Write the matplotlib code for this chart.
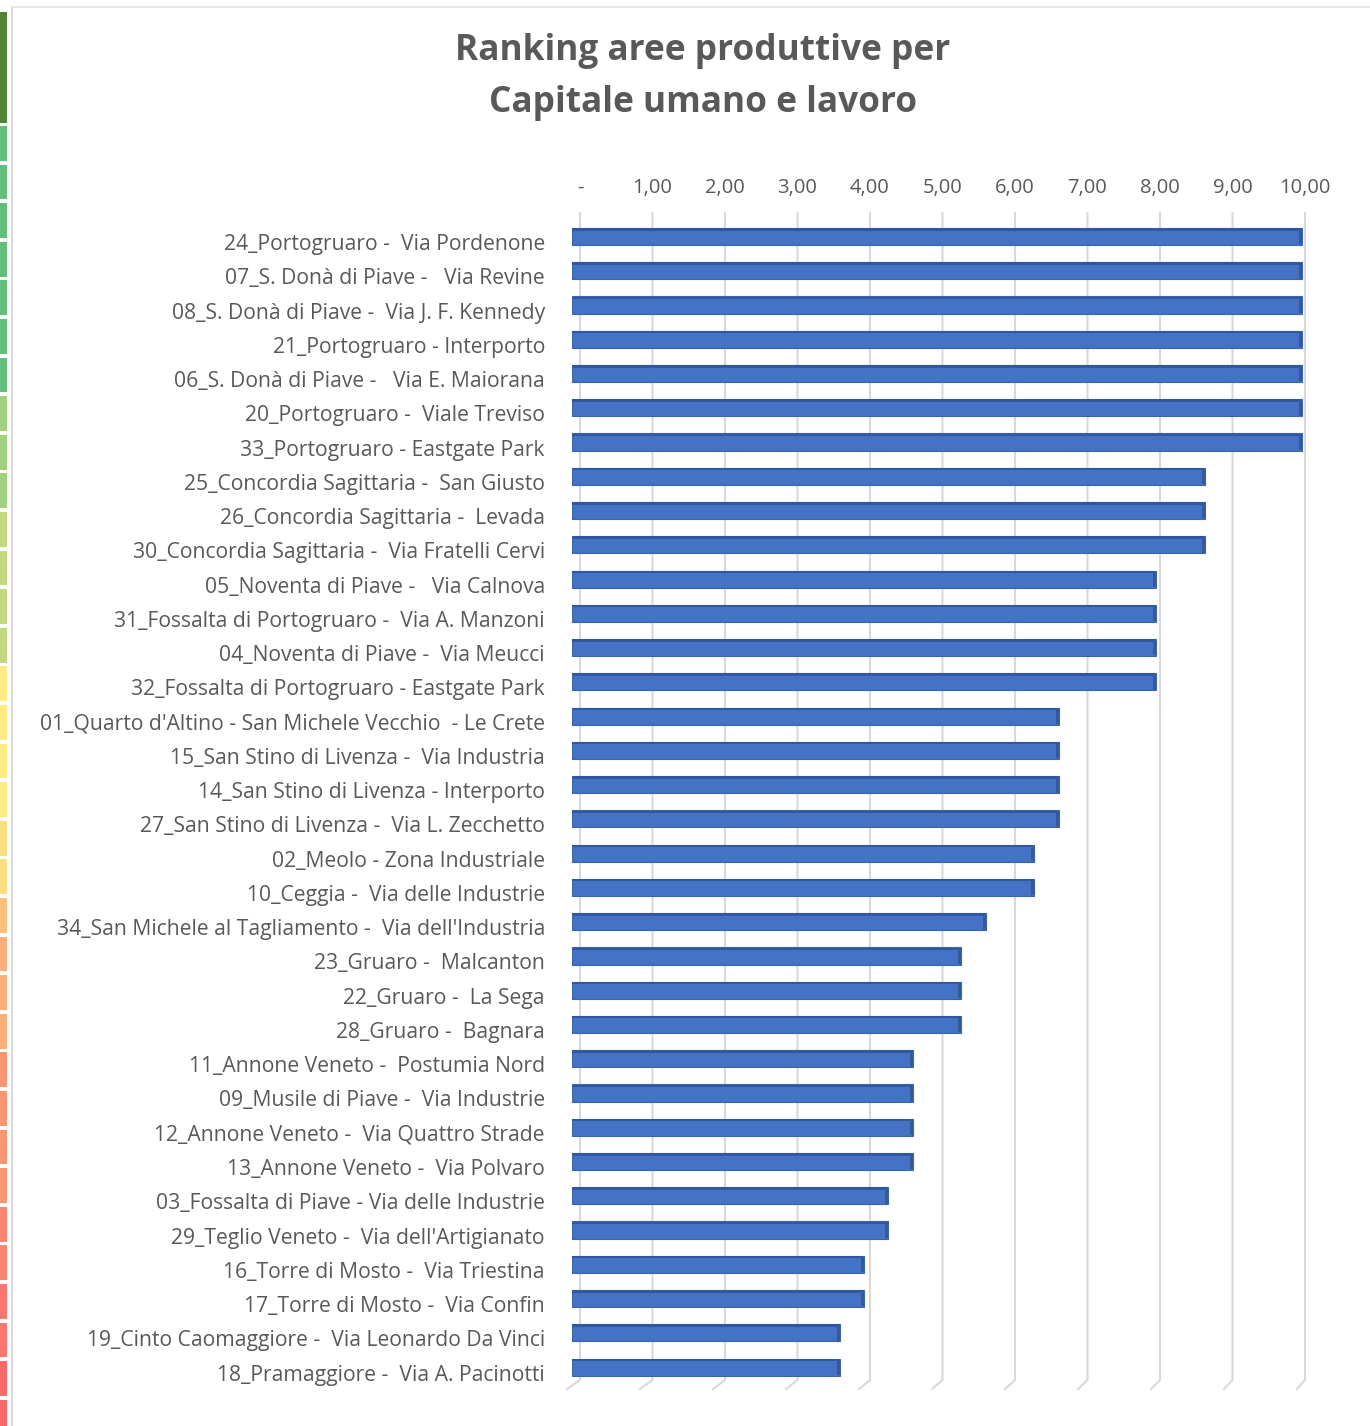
import numpy as np
from matplotlib import pyplot as plt
from matplotlib.colors import LinearSegmentedColormap, TwoSlopeNorm
from matplotlib.transforms import ScaledTranslation
from matplotlib.lines import Line2D
from matplotlib.patches import Rectangle

# dati
aree = [
    "24_Portogruaro -  Via Pordenone",
    "07_S. Donà di Piave -   Via Revine",
    "08_S. Donà di Piave -  Via J. F. Kennedy",
    "21_Portogruaro - Interporto",
    "06_S. Donà di Piave -   Via E. Maiorana",
    "20_Portogruaro -  Viale Treviso",
    "33_Portogruaro - Eastgate Park",
    "25_Concordia Sagittaria -  San Giusto",
    "26_Concordia Sagittaria -  Levada",
    "30_Concordia Sagittaria -  Via Fratelli Cervi",
    "05_Noventa di Piave -   Via Calnova",
    "31_Fossalta di Portogruaro -  Via A. Manzoni",
    "04_Noventa di Piave -  Via Meucci",
    "32_Fossalta di Portogruaro - Eastgate Park",
    "01_Quarto d'Altino - San Michele Vecchio  - Le Crete",
    "15_San Stino di Livenza -  Via Industria",
    "14_San Stino di Livenza - Interporto",
    "27_San Stino di Livenza -  Via L. Zecchetto",
    "02_Meolo - Zona Industriale",
    "10_Ceggia -  Via delle Industrie",
    "34_San Michele al Tagliamento -  Via dell'Industria",
    "23_Gruaro -  Malcanton",
    "22_Gruaro -  La Sega",
    "28_Gruaro -  Bagnara",
    "11_Annone Veneto -  Postumia Nord",
    "09_Musile di Piave -  Via Industrie",
    "12_Annone Veneto -  Via Quattro Strade",
    "13_Annone Veneto -  Via Polvaro",
    "03_Fossalta di Piave - Via delle Industrie",
    "29_Teglio Veneto -  Via dell'Artigianato",
    "16_Torre di Mosto -  Via Triestina",
    "17_Torre di Mosto -  Via Confin",
    "19_Cinto Caomaggiore -  Via Leonardo Da Vinci",
    "18_Pramaggiore -  Via A. Pacinotti",
]
punteggi = [10.0, 10.0, 10.0, 10.0, 10.0, 10.0, 10.0,
            8.67, 8.67, 8.67,
            8.0, 8.0, 8.0, 8.0,
            6.67, 6.67, 6.67, 6.67,
            6.33, 6.33,
            5.67,
            5.33, 5.33, 5.33,
            4.67, 4.67, 4.67, 4.67,
            4.33, 4.33,
            4.0, 4.0,
            3.67, 3.67]
tick_vals = [0, 1, 2, 3, 4, 5, 6, 7, 8, 9, 10]
tick_labels = ["-", "1,00", "2,00", "3,00", "4,00", "5,00", "6,00", "7,00", "8,00", "9,00", "10,00"]
titolo = "Ranking aree produttive per\nCapitale umano e lavoro"

W, H = 1370, 1426
GRIGIO = '#595959'
plt.rcParams['font.family'] = ['Open Sans', 'DejaVu Sans']

fig = plt.figure(figsize=(W / 100, H / 100), dpi=100)
fig.patch.set_facecolor('white')

def px(x0, y0, x1, y1):
    # rettangolo in pixel (origine in alto a sinistra) -> coordinate figura
    return [x0 / W, 1 - y1 / H, (x1 - x0) / W, (y1 - y0) / H]

# bordo del grafico (screenshot excel)
fig.add_artist(Line2D([12 / W, 12 / W], [0, 1 - 7 / H], color='#d9d9d9', lw=1.5))
fig.add_artist(Line2D([12 / W, 1], [1 - 7 / H, 1 - 7 / H], color='#e3e3e3', lw=1.2))

# colonna con scala colori a sinistra
fig.add_artist(Rectangle((0, 1 - 123 / H), 7 / W, 111 / H, transform=fig.transFigure,
                         color='#548235', lw=0))
ax_s = fig.add_axes(px(0, 126, 7, 126 + 38.6 * len(punteggi)))
cmap = LinearSegmentedColormap.from_list('rg', ['#F8696B', '#FFEB84', '#63BE7B'])
norm = TwoSlopeNorm(vmin=min(punteggi), vcenter=float(np.median(punteggi)), vmax=max(punteggi))
ax_s.barh(np.arange(len(punteggi)) + 0.45, 1, height=0.9, color=cmap(norm(punteggi)))
ax_s.set_xlim(0, 1)
ax_s.set_ylim(len(punteggi), 0)
ax_s.axis('off')

# grafico principale
ax = fig.add_axes(px(572, 213, 1305, 1389))
n = len(aree)
y = np.arange(n)
ppu = 733 / 10  # pixel per unita (piano frontale)
k_back = 72.8 / ppu  # piano di fondo leggermente piu' stretto (prospettiva)
dx_back = 8 / ppu
dx_front = -5 / ppu
y_top, y_bot = -0.686, 33.64
y_floor = (1380 - 236.5) / 34.26

x_back = dx_back + np.array(tick_vals) * k_back
for t, xb in zip(tick_vals, x_back):
    ax.plot([xb, xb, t + dx_front], [y_top, y_floor, y_bot],
            color='#d9d9d9', lw=1.5, zorder=0, clip_on=False, solid_joinstyle='miter')

ax.barh(y, punteggi, height=0.5, color='#4472C4', edgecolor='#3a64ae', lw=0.8, zorder=2)
# faccia superiore e testata scure (effetto 3D)
ax.barh(y - 0.21, punteggi, height=0.07, color='#30589e', lw=0, zorder=3)
ax.barh(y, [0.04] * n, left=np.array(punteggi) - 0.04, height=0.46, color='#34599c', lw=0, zorder=3)

ax.set_xlim(0, 10)
ax.set_ylim(y_bot, y_top)
for s in ax.spines.values():
    s.set_visible(False)

ax.set_yticks(y, aree)
ax.tick_params(axis='y', length=0, pad=19.5, labelsize=15.2, labelcolor=GRIGIO)
for lab in ax.get_yticklabels():
    lab.set_transform(lab.get_transform() + ScaledTranslation(0, -0.055, fig.dpi_scale_trans))

ax.xaxis.tick_top()
ax.set_xticks(x_back, tick_labels)
ax.tick_params(axis='x', length=0, pad=11, labelsize=14.5, labelcolor=GRIGIO)

fig.text(703 / W, 1 - 77 / H, titolo, ha='center', va='center', fontsize=25.4,
         fontweight='bold', color=GRIGIO, linespacing=1.6)

fig.savefig('out.png', dpi=100)
